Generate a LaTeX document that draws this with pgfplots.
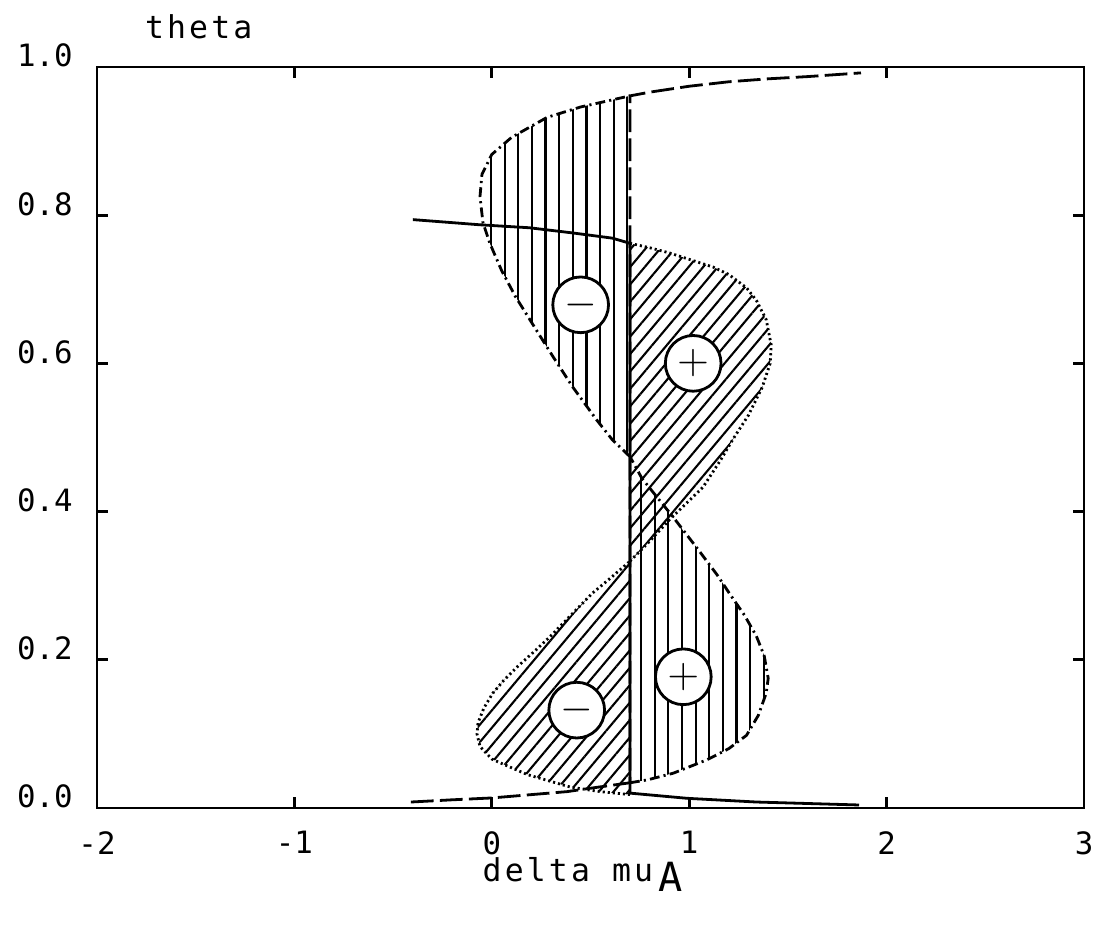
\documentclass[border=0pt]{standalone}
\usepackage{pgfplots}
\usepackage{pgfplotstable}
\usepackage{fontspec}
\setmainfont{DejaVu Sans Mono}
\pgfplotsset{compat=1.18}
\usetikzlibrary{patterns.meta}

% dash-dot loop, upper-left lobe
\pgfplotstableread{
x y
0.70 0.474
0.61 0.497
0.53 0.524
0.41 0.568
0.31 0.609
0.23 0.643
0.12 0.690
0.05 0.725
-0.01 0.762
-0.045 0.790
-0.06 0.825
-0.05 0.855
0.00 0.882
0.10 0.905
0.28 0.932
0.45 0.946
0.60 0.955
0.70 0.961
}\ddupper
% dash-dot loop, lower-right lobe
\pgfplotstableread{
x y
0.70 0.034
0.79 0.038
0.92 0.047
1.09 0.065
1.20 0.080
1.29 0.098
1.35 0.125
1.39 0.155
1.40 0.175
1.38 0.205
1.34 0.232
1.28 0.260
1.21 0.287
1.14 0.315
1.05 0.347
0.92 0.392
0.82 0.425
0.76 0.445
0.70 0.474
}\ddlower
% dotted loop, upper-right lobe
\pgfplotstableread{
x y
0.70 0.333
0.80 0.360
0.90 0.389
1.07 0.433
1.16 0.470
1.22 0.497
1.30 0.530
1.37 0.568
1.41 0.600
1.415 0.625
1.39 0.659
1.34 0.685
1.29 0.702
1.20 0.720
1.12 0.730
0.90 0.749
0.80 0.756
0.70 0.762
}\dtupper
% dotted loop, lower-left lobe
\pgfplotstableread{
x y
0.70 0.018
0.55 0.022
0.40 0.028
0.18 0.045
0.05 0.060
0.00 0.066
-0.06 0.083
-0.075 0.100
-0.07 0.115
-0.04 0.135
0.005 0.155
0.06 0.172
0.127 0.190
0.21 0.210
0.294 0.231
0.40 0.260
0.51 0.290
0.60 0.310
0.70 0.333
}\dtlower

\begin{document}
\begin{tikzpicture}
\begin{axis}[
  scale only axis,
  width=9.92cm,
  height=7.447cm,
  xmin=-2, xmax=3,
  ymin=0, ymax=1,
  xtick={-2,-1,0,1,2,3},
  ytick={0,0.2,0.4,0.6,0.8,1.0},
  tick pos=both,
  tick align=inside,
  major tick length=0.11cm,
  axis line style={line width=0.8pt},
  every tick/.style={black, line width=0.8pt},
  /pgf/number format/assume math mode=true,
  every tick label/.append style={font=\fontsize{8.8}{10}\selectfont},
  yticklabel style={anchor=base east, xshift=-0.12cm,
    /pgf/number format/fixed,
    /pgf/number format/fixed zerofill,
    /pgf/number format/precision=1},
  xticklabel style={yshift=-0.23cm, inner xsep=0pt, inner ysep=0pt},
  xlabel={delta mu\,\raisebox{-0.1cm}{\fontsize{11.5}{12}\selectfont A}},
  xlabel style={font=\fontsize{9}{10}\selectfont\addfontfeatures{LetterSpace=10}, inner sep=0pt, at={(axis description cs:0.492,-0.099)}, anchor=base},
  ylabel={theta},
  ylabel style={font=\fontsize{9}{10}\selectfont\addfontfeatures{LetterSpace=10}, rotate=-90, at={(axis description cs:0.103,1.039)}, anchor=base},
]
% hatched lobes
\addplot[draw=none, pattern={Lines[angle=90, distance=3.9pt, line width=0.6pt]}] table {\ddupper} -- cycle;
\addplot[draw=none, pattern={Lines[angle=90, distance=3.9pt, line width=0.6pt]}] table {\ddlower} -- cycle;
\addplot[draw=none, pattern={Lines[angle=50, distance=3.2pt, line width=0.6pt]}] table {\dtupper} -- cycle;
\addplot[draw=none, pattern={Lines[angle=50, distance=3.2pt, line width=0.6pt]}] table {\dtlower} -- cycle;

% dash-dot loop
\addplot[line width=0.8pt, dash pattern=on 2.8pt off 1.2pt on 0.6pt off 1.2pt] table {\ddupper};
\addplot[line width=0.8pt, dash pattern=on 2.8pt off 1.2pt on 0.6pt off 1.2pt] table {\ddlower};
% dotted loop
\addplot[line width=0.8pt, dash pattern=on 0.6pt off 0.85pt] table {\dtupper};
\addplot[line width=0.8pt, dash pattern=on 0.6pt off 0.85pt] table {\dtlower};

% dashed equilibrium curve
\addplot[line width=0.8pt, dash pattern=on 6.5pt off 1.8pt] coordinates {
  (-0.41,0.008) (-0.2,0.011) (0.0,0.0135) (0.2,0.018) (0.38,0.022) (0.51,0.027)
  (0.70,0.034) (0.70,0.961) (0.80,0.966) (1.0,0.974) (1.2,0.980) (1.4,0.984)
  (1.6,0.987) (1.87,0.992)
};
% solid equilibrium curve
\addplot[line width=0.8pt] coordinates {
  (-0.40,0.794) (-0.06,0.787) (0.19,0.783) (0.41,0.776) (0.61,0.769)
  (0.70,0.762) (0.70,0.020) (0.99,0.013) (1.34,0.008) (1.86,0.004)
};

% sign markers
\node[circle, draw, line width=0.8pt, fill=white, minimum size=0.56cm, inner sep=0pt] at (axis cs:0.45,0.679) {\fontsize{12}{12}\selectfont$-$};
\node[circle, draw, line width=0.8pt, fill=white, minimum size=0.56cm, inner sep=0pt] at (axis cs:1.02,0.600) {\fontsize{12}{12}\selectfont$+$};
\node[circle, draw, line width=0.8pt, fill=white, minimum size=0.56cm, inner sep=0pt] at (axis cs:0.43,0.132) {\fontsize{12}{12}\selectfont$-$};
\node[circle, draw, line width=0.8pt, fill=white, minimum size=0.56cm, inner sep=0pt] at (axis cs:0.97,0.177) {\fontsize{12}{12}\selectfont$+$};
\end{axis}
\path ([shift={(-0.975cm,-1.236cm)}]current axis.south west) rectangle ([shift={(0.11cm,0.673cm)}]current axis.north east);
\end{tikzpicture}
\end{document}
